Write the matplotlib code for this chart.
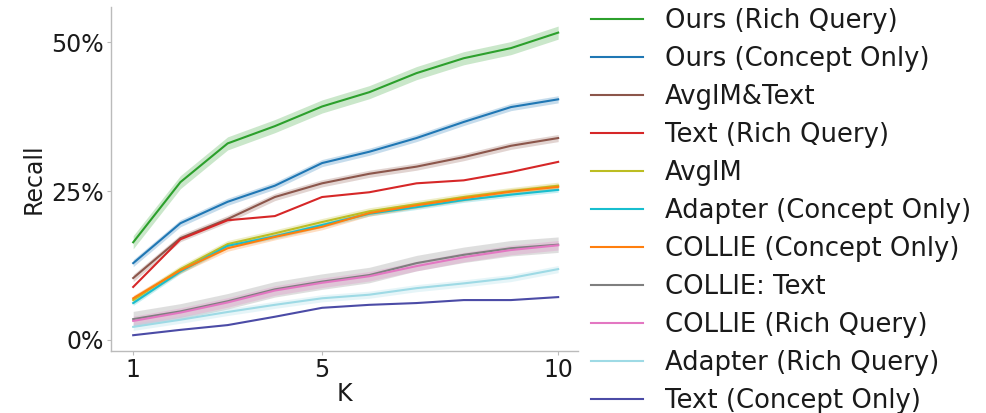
import numpy as np
import matplotlib
matplotlib.use("Agg")
import matplotlib.pyplot as plt
from matplotlib.ticker import PercentFormatter

# =========================
# DATA (recall in %, K = 1..10)
# =========================
K = [1, 2, 3, 4, 5, 6, 7, 8, 9, 10]

labels = [
    "Ours (Rich Query)",
    "Ours (Concept Only)",
    "AvgIM&Text",
    "Text (Rich Query)",
    "AvgIM",
    "Adapter (Concept Only)",
    "COLLIE (Concept Only)",
    "COLLIE: Text",
    "COLLIE (Rich Query)",
    "Adapter (Rich Query)",
    "Text (Concept Only)",
]

ours_rich = [16.4, 26.5, 33.0, 35.9, 39.2, 41.6, 44.8, 47.3, 49.0, 51.6]
ours_concept = [12.9, 19.6, 23.2, 25.9, 29.7, 31.6, 33.9, 36.6, 39.1, 40.4]
avgim_text = [10.4, 17.1, 20.3, 24.0, 26.3, 27.9, 29.1, 30.7, 32.6, 33.9]
text_rich = [8.9, 16.9, 20.1, 20.8, 24.0, 24.8, 26.3, 26.8, 28.2, 29.9]
avgim = [6.7, 11.9, 16.1, 17.9, 19.8, 21.6, 22.8, 24.0, 25.0, 25.9]
adapter_concept = [6.2, 11.5, 15.8, 17.4, 19.3, 21.2, 22.3, 23.5, 24.4, 25.2]
collie_concept = [7.0, 11.7, 15.4, 17.3, 19.0, 21.3, 22.6, 23.8, 24.9, 25.7]
collie_text = [3.5, 4.8, 6.5, 8.5, 9.8, 10.9, 12.9, 14.3, 15.4, 16.0]
collie_rich = [3.2, 4.6, 6.3, 8.3, 9.6, 10.7, 12.4, 13.9, 15.1, 15.9]
adapter_rich = [2.2, 3.4, 4.7, 5.9, 7.0, 7.6, 8.7, 9.5, 10.4, 11.9]
text_concept = [0.8, 1.7, 2.5, 3.9, 5.4, 5.9, 6.2, 6.7, 6.7, 7.2]

series = [ours_rich, ours_concept, avgim_text, text_rich, avgim,
          adapter_concept, collie_concept, collie_text, collie_rich,
          adapter_rich, text_concept]

# confidence band half-width per series (in %)
band = [1.1, 0.6, 0.6, 0.0, 0.6, 0.4, 0.5, 1.3, 0.8, 0.6, 0.0]

colors = ["#2ca02c", "#1f77b4", "#8c564b", "#d62728", "#bcbd22", "#17becf",
          "#ff7f0e", "#7f7f7f", "#e377c2", "#9edae5", "#4b4ba6"]

# =========================
# FIGURE
# =========================
plt.rcParams["font.family"] = "DejaVu Sans"
fig = plt.figure(figsize=(9.86, 4.13), dpi=100)
ax = fig.add_axes([111 / 986, 62 / 413, 467 / 986, 344 / 413])

for vals, hw, c, lab in zip(series, band, colors, labels):
    y = np.array(vals)
    if hw > 0:
        ax.fill_between(K, y - hw, y + hw, color=c, alpha=0.25, linewidth=0)
    ax.plot(K, y, color=c, linewidth=1.5, label=lab)

ax.set_xlim(0.53, 10.42)
ax.set_ylim(-1.85, 55.9)
ax.set_xticks([1, 5, 10])
ax.set_yticks([0, 25, 50])
ax.yaxis.set_major_formatter(PercentFormatter(decimals=0))

for side in ["top", "right"]:
    ax.spines[side].set_visible(False)
for side in ["left", "bottom"]:
    ax.spines[side].set_color("#bbbbbb")
    ax.spines[side].set_linewidth(1.0)

ax.tick_params(axis="both", labelsize=17, colors="#bbbbbb", labelcolor="#1a1a1a",
               length=3, width=0.8, pad=2)
ax.set_xlabel("K", fontsize=17, color="#1a1a1a", labelpad=0)
ax.set_ylabel("Recall", fontsize=17, color="#1a1a1a", labelpad=4)

leg = fig.legend(
    loc="upper left",
    bbox_to_anchor=(578 / 986, 1.012),
    frameon=False,
    fontsize=18.6,
    labelspacing=0.465,
    handlelength=2.0,
    handletextpad=0.85,
    borderpad=0.0,
)
for t in leg.get_texts():
    t.set_color("#1a1a1a")

fig.savefig("out.png", dpi=100)
